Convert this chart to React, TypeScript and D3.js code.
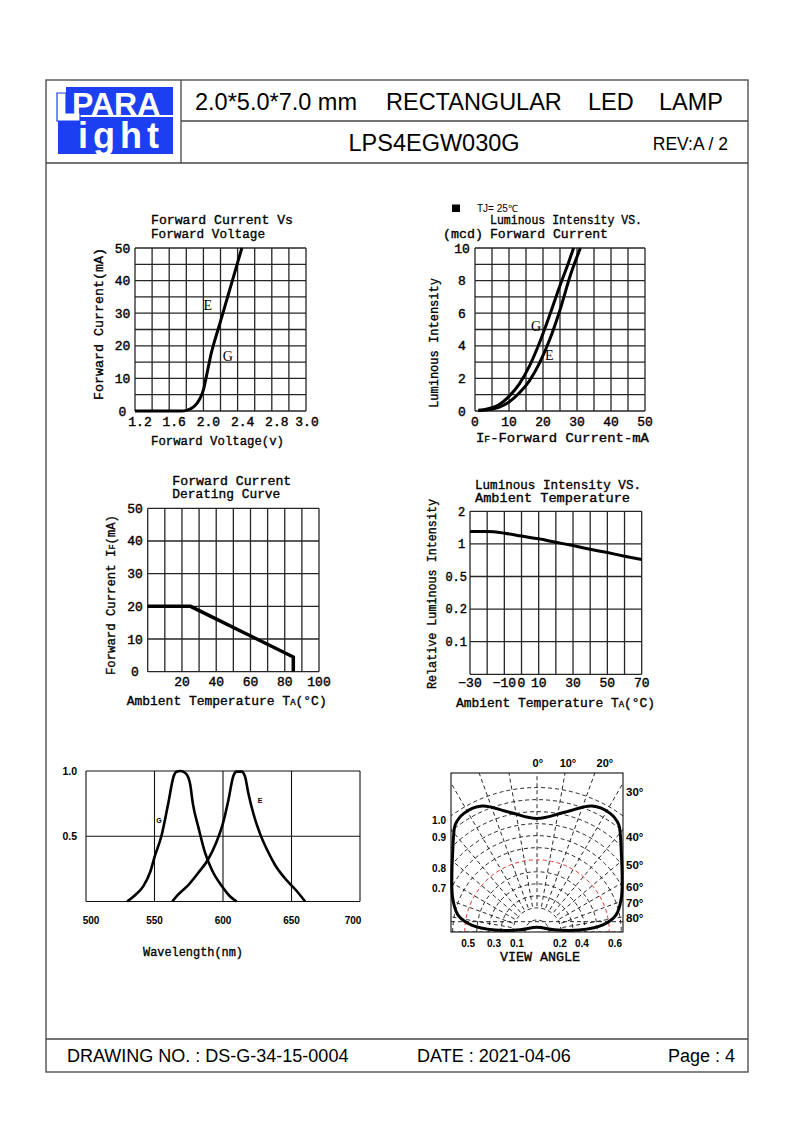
import React from "react";
import * as d3 from "d3";

// ================= DATA =================
// Chart 1: Forward Current vs Forward Voltage
const fvVoltage = [1.2, 1.5, 1.75, 1.8, 1.85, 1.9, 1.95, 1.98, 2.0, 2.03, 2.06, 2.09, 2.12, 2.16, 2.2, 2.25, 2.3, 2.35, 2.4, 2.45];
const fvCurrent = [0, 0, 0, 0.2, 0.7, 1.6, 3.4, 5.0, 6.5, 10, 13.8, 17.5, 20.5, 24, 27.5, 32, 36.5, 41, 45.5, 50];
const fvXTicks = [1.2, 1.6, 2.0, 2.4, 2.8, 3.2];
const fvXTickLabels = ["1.2", "1.6", "2.0", "2.4", "2.8", "3.0"];
const fvYTicks = [0, 10, 20, 30, 40, 50];

// Chart 2: Luminous Intensity vs Forward Current
const ivCurrentG = [1, 3, 5, 7, 10, 13, 16, 19, 22, 25, 27.5, 29];
const ivIntensityG = [0.05, 0.1, 0.2, 0.38, 0.9, 1.65, 2.75, 4.2, 5.9, 7.7, 9.1, 10];
const ivCurrentE = [1, 3, 5, 7, 10, 13, 16, 19, 22, 25, 28, 31];
const ivIntensityE = [0.03, 0.06, 0.12, 0.22, 0.55, 1.1, 1.85, 2.95, 4.4, 6.2, 8.3, 10];
const ivXTicks = [0, 10, 20, 30, 40, 50];
const ivYTicks = [0, 2, 4, 6, 8, 10];

// Chart 3: Forward Current Derating Curve
const derTemp = [0, 25, 85, 85];
const derCurrent = [20, 20, 4.5, 0];
const derXTicks = [20, 40, 60, 80, 100];
const derYTicks = [0, 10, 20, 30, 40, 50];

// Chart 4: Luminous Intensity vs Ambient Temperature
const ltTemp = [-30, -20, -10, 0, 10, 20, 30, 40, 50, 60, 70];
const ltRel = [1.38, 1.38, 1.33, 1.24, 1.155, 1.05, 0.974, 0.918, 0.867, 0.811, 0.76];
const ltXTicks = [-30, -10, 0, 10, 30, 50, 70];
const ltXTickLabels = ["\u221230", "\u221210", "0", "10", "30", "50", "70"];
const ltYLevels = [0, 0.1, 0.2, 0.5, 1, 2];
const ltYTickLabels = ["", "0.1", "0.2", "0.5", "1", "2"];

// Chart 5: Spectrum
const specGnm = [530, 536, 542, 547, 550, 555, 560, 564, 566, 569, 573, 576, 578, 582, 587, 592, 599, 605, 610];
const specGrel = [0, 0.05, 0.12, 0.23, 0.34, 0.5, 0.75, 0.96, 0.995, 1.0, 0.98, 0.9, 0.75, 0.57, 0.37, 0.24, 0.12, 0.04, 0];
const specEnm = [563, 567, 575, 582, 589, 595, 600, 604, 607.5, 610, 613.5, 616, 618.5, 622, 627, 632, 638, 645, 653, 660];
const specErel = [0, 0.05, 0.13, 0.22, 0.32, 0.45, 0.6, 0.78, 0.96, 0.995, 0.995, 0.96, 0.83, 0.68, 0.52, 0.4, 0.28, 0.18, 0.09, 0];
const specXTicks = [500, 550, 600, 650, 700];
const specYTicks = [0.5, 1.0];
const specYTickLabels = ["0.5", "1.0"];

// Chart 6: Radiation pattern (outline in plot units, half-width = 1)
const polarOutlineU = [0, 0.33, 0.64, 0.85, 0.95, 0.97, 0.98, 0.99, 0.98, 0.92, 0.76, 0.49, 0.2, 0, -0.2, -0.49, -0.76, -0.92, -0.98, -0.99, -0.98, -0.97, -0.95, -0.85, -0.64, -0.33];
const polarOutlineV = [1.32, 1.395, 1.465, 1.38, 1.25, 1.12, 0.93, 0.66, 0.39, 0.2, 0.08, 0.023, 0.025, 0.055, 0.025, 0.023, 0.08, 0.2, 0.39, 0.66, 0.93, 1.12, 1.25, 1.38, 1.465, 1.395];
const polarAngles = [-90, -80, -70, -60, -50, -40, -30, -20, -10, 0, 10, 20, 30, 40, 50, 60, 70, 80, 90];
const polarTopLabels = ["0\u00b0", "10\u00b0", "20\u00b0"];
const polarTopU = [0.01, 0.36, 0.79];
const polarRightLabels = ["30\u00b0", "40\u00b0", "50\u00b0", "60\u00b0", "70\u00b0", "80\u00b0"];
const polarRightV = [1.628, 1.105, 0.779, 0.523, 0.337, 0.163];
const polarLeftLabels = ["1.0", "0.9", "0.8", "0.7"];
const polarLeftV = [1.302, 1.105, 0.744, 0.512];
const polarBottomLabels = ["0.5", "0.3", "0.1", "0.2", "0.4", "0.6"];
const polarBottomU = [-0.8, -0.5, -0.233, 0.267, 0.523, 0.907];

// ================= STYLE =================
const MONO = "'Liberation Mono','DejaVu Sans Mono',monospace";
const SANS = "'Liberation Sans',Arial,sans-serif";
const SERIF = "'Liberation Serif','DejaVu Serif',serif";
const GRID = "#262626";
const BLUE = "#1c3ff2";

function Grid({ x, y, xs, ys, sw = 1.3, color = GRID }: any) {
  const xr = x.range();
  const yr = y.range();
  const xa = xr[0], xb = xr[xr.length - 1];
  const ya = Math.min(yr[0], yr[yr.length - 1]);
  const yb = Math.max(yr[0], yr[yr.length - 1]);
  return (
    <g stroke={color} strokeWidth={sw} fill="none">
      {xs.map((v: number, i: number) => (
        <line key={"gx" + i} x1={x(v)} x2={x(v)} y1={ya} y2={yb} />
      ))}
      {ys.map((v: number, i: number) => (
        <line key={"gy" + i} x1={xa} x2={xb} y1={y(v)} y2={y(v)} />
      ))}
    </g>
  );
}

const monoText = { fontFamily: MONO, fontSize: 13, fill: "#000", stroke: "#000", strokeWidth: 0.35 } as any;
const tickText = { fontFamily: MONO, fontSize: 13, fill: "#000", stroke: "#000", strokeWidth: 0.4 } as any;

function FVChart() {
  const x = d3.scaleLinear().domain([1.2, 3.2]).range([135, 306]);
  const y = d3.scaleLinear().domain([0, 50]).range([411, 248]);
  const line = d3
    .line<number>()
    .x((d) => x(d))
    .y((_d, i) => y(fvCurrent[i]))
    .curve(d3.curveMonotoneX);
  return (
    <g>
      <text {...monoText} x={151} y={224} textLength={142} lengthAdjust="spacingAndGlyphs">Forward Current Vs</text>
      <text {...monoText} x={151} y={238} textLength={114} lengthAdjust="spacingAndGlyphs">Forward Voltage</text>
      <Grid x={x} y={y} xs={d3.range(11).map((i) => 1.2 + i * 0.2)} ys={d3.range(0, 51, 5)} />
      <path d={line(fvVoltage) as string} stroke="#000" strokeWidth={3} fill="none" strokeLinejoin="round" />
      {fvXTicks.map((v, i) => (
        <text key={i} {...tickText} x={Math.min(x(v) + 5, 307)} y={426} textAnchor="middle">{fvXTickLabels[i]}</text>
      ))}
      {fvYTicks.map((v, i) => (
        <text key={i} {...tickText} x={122.5} y={y(v) + 4.5} textAnchor="middle">{v}</text>
      ))}
      <text {...monoText} transform="translate(102.5,324) rotate(-90)" textAnchor="middle" textLength={152} lengthAdjust="spacingAndGlyphs">Forward Current(mA)</text>
      <text {...monoText} x={151} y={444.5} textLength={133} lengthAdjust="spacingAndGlyphs">Forward Voltage(v)</text>
      <text x={207.7} y={310} textAnchor="middle" fontFamily={SERIF} fontSize={14}>E</text>
      <text x={227.7} y={360.5} textAnchor="middle" fontFamily={SERIF} fontSize={14}>G</text>
    </g>
  );
}

function IVChart() {
  const x = d3.scaleLinear().domain([0, 50]).range([475, 645]);
  const y = d3.scaleLinear().domain([0, 10]).range([411, 248]);
  const lineG = d3.line<number>().x((d) => x(d)).y((_d, i) => y(ivIntensityG[i])).curve(d3.curveMonotoneX);
  const lineE = d3.line<number>().x((d) => x(d)).y((_d, i) => y(ivIntensityE[i])).curve(d3.curveMonotoneX);
  return (
    <g>
      <rect x={452} y={204.5} width={8} height={7.5} fill="#000" />
      <text x={477} y={212} fontFamily={SANS} fontSize={10}>TJ= 25℃</text>
      <text {...monoText} x={490} y={224} textLength={152} lengthAdjust="spacingAndGlyphs">Luminous Intensity VS.</text>
      <text {...monoText} x={443} y={238} textLength={40} lengthAdjust="spacingAndGlyphs">(mcd)</text>
      <text {...monoText} x={490} y={238} textLength={118} lengthAdjust="spacingAndGlyphs">Forward Current</text>
      <Grid x={x} y={y} xs={d3.range(0, 51, 5)} ys={d3.range(0, 11, 1)} />
      <path d={lineG(ivCurrentG) as string} stroke="#000" strokeWidth={3} fill="none" />
      <path d={lineE(ivCurrentE) as string} stroke="#000" strokeWidth={3} fill="none" />
      {ivXTicks.map((v, i) => (
        <text key={i} {...tickText} x={x(v)} y={426} textAnchor="middle">{v}</text>
      ))}
      {ivYTicks.map((v, i) => (
        <text key={i} {...tickText} x={462} y={y(v) + 4.5} textAnchor="middle">{v}</text>
      ))}
      <text {...monoText} transform="translate(437.5,343) rotate(-90)" textAnchor="middle" textLength={130} lengthAdjust="spacingAndGlyphs">Luminous Intensity</text>
      <text {...monoText} x={476} y={442} textLength={173} lengthAdjust="spacingAndGlyphs">
        I<tspan fontSize={9}>F</tspan>-Forward Current-mA
      </text>
      <text x={536} y={331} textAnchor="middle" fontFamily={SERIF} fontSize={14}>G</text>
      <text x={549.3} y={360} textAnchor="middle" fontFamily={SERIF} fontSize={14}>E</text>
    </g>
  );
}

function DeratingChart() {
  const x = d3.scaleLinear().domain([0, 100]).range([147.7, 319]);
  const y = d3.scaleLinear().domain([0, 50]).range([671.7, 508.3]);
  const line = d3.line<number>().x((d) => x(d)).y((_d, i) => y(derCurrent[i]));
  return (
    <g>
      <text {...monoText} x={172.3} y={485} textLength={119} lengthAdjust="spacingAndGlyphs">Forward Current</text>
      <text {...monoText} x={172.3} y={498} textLength={108} lengthAdjust="spacingAndGlyphs">Derating Curve</text>
      <Grid x={x} y={y} xs={d3.range(0, 101, 10)} ys={d3.range(0, 51, 10)} />
      <path d={line(derTemp) as string} stroke="#000" strokeWidth={3.5} fill="none" strokeLinejoin="miter" />
      {derXTicks.map((v, i) => (
        <text key={i} {...tickText} x={x(v)} y={686} textAnchor="middle">{v}</text>
      ))}
      {derYTicks.map((v, i) => (
        <text key={i} {...tickText} x={135} y={y(v) + 4.5} textAnchor="middle">{v}</text>
      ))}
      <text {...monoText} transform="translate(114.5,595) rotate(-90)" textAnchor="middle" textLength={160} lengthAdjust="spacingAndGlyphs">
        Forward Current I<tspan fontSize={9}>F</tspan>(mA)
      </text>
      <text {...monoText} x={126.7} y={705} textLength={200} lengthAdjust="spacingAndGlyphs">
        Ambient Temperature T<tspan fontSize={9}>A</tspan>(°C)
      </text>
    </g>
  );
}

function TempChart() {
  const top = 511.3, bottom = 674.3;
  const x = d3.scaleLinear().domain([-30, 70]).range([470, 641.7]);
  const y = d3
    .scaleLinear()
    .domain(ltYLevels)
    .range(ltYLevels.map((_v, i) => bottom - (i * (bottom - top)) / (ltYLevels.length - 1)));
  const line = d3.line<number>().x((d) => x(d)).y((_d, i) => y(ltRel[i])).curve(d3.curveMonotoneX);
  return (
    <g>
      <text {...monoText} x={475} y={489} textLength={166} lengthAdjust="spacingAndGlyphs">Luminous Intensity VS.</text>
      <text {...monoText} x={475} y={502} textLength={155} lengthAdjust="spacingAndGlyphs">Ambient Temperature</text>
      <Grid x={x} y={y} xs={d3.range(-30, 71, 10)} ys={ltYLevels} />
      <path d={line(ltTemp) as string} stroke="#000" strokeWidth={3} fill="none" />
      {ltXTicks.map((v, i) => (
        <text key={i} {...tickText} x={x(v)} y={687} textAnchor="middle">{ltXTickLabels[i]}</text>
      ))}
      {ltYLevels.map((v, i) => (
        <text
          key={i}
          {...tickText}
          fontSize={12}
          x={ltYTickLabels[i].length > 1 ? 467 : 461.5}
          y={y(v) + 4.2}
          textAnchor={ltYTickLabels[i].length > 1 ? "end" : "middle"}
        >
          {ltYTickLabels[i]}
        </text>
      ))}
      <text {...monoText} transform="translate(436,594) rotate(-90)" textAnchor="middle" textLength={190} lengthAdjust="spacingAndGlyphs">Relative Luminous Intensity</text>
      <text {...monoText} x={456} y={707} textLength={199} lengthAdjust="spacingAndGlyphs">
        Ambient Temperature T<tspan fontSize={9}>A</tspan>(°C)
      </text>
    </g>
  );
}

function SpectrumChart() {
  const x = d3.scaleLinear().domain([500, 700]).range([86, 360]);
  const y = d3.scaleLinear().domain([0, 1]).range([901.5, 771]);
  const lineG = d3.line<number>().x((d) => x(d)).y((_d, i) => y(specGrel[i])).curve(d3.curveMonotoneX);
  const lineE = d3.line<number>().x((d) => x(d)).y((_d, i) => y(specErel[i])).curve(d3.curveMonotoneX);
  const [xl, xr] = x.range();
  return (
    <g>
      <Grid x={x} y={y} xs={specXTicks} ys={[0, 0.5, 1]} sw={1.1} color="#111" />
      <path d={lineG(specGnm) as string} stroke="#000" strokeWidth={2.6} fill="none" />
      <path d={lineE(specEnm) as string} stroke="#000" strokeWidth={2.6} fill="none" />
      {specXTicks.map((v, i) => (
        <text key={i} x={Math.max(xl + 5, Math.min(xr - 7, x(v)))} y={923.5} textAnchor="middle" fontFamily={SANS} fontWeight="bold" fontSize={10}>{v}</text>
      ))}
      {specYTicks.map((v, i) => (
        <text key={i} x={77} y={y(v) + 3.8} textAnchor="end" fontFamily={SANS} fontWeight="bold" fontSize={10.5}>{specYTickLabels[i]}</text>
      ))}
      <text x={159} y={823} textAnchor="middle" fontFamily={SANS} fontWeight="bold" fontSize={7}>G</text>
      <text x={260} y={802.5} textAnchor="middle" fontFamily={SANS} fontWeight="bold" fontSize={7}>E</text>
      <text {...monoText} x={143} y={956} textLength={100} lengthAdjust="spacingAndGlyphs">Wavelength(nm)</text>
    </g>
  );
}

function PolarChart() {
  const left = 451, right = 623, top = 773, bottom = 932;
  const u = d3.scaleLinear().domain([-1, 1]).range([left, right]);
  const unit = (right - left) / 2;
  const v = d3.scaleLinear().domain([0, 1]).range([bottom, bottom - unit]);
  const cx = u(0), cy = v(0);
  const rings = d3.range(1, 13).map((k) => k * 0.14);
  const outline = d3
    .line<number>()
    .x((d) => u(d))
    .y((_d, i) => v(polarOutlineV[i]))
    .curve(d3.curveCatmullRomClosed.alpha(0.5));
  const dash = "4 3";
  return (
    <g>
      <defs>
        <clipPath id="polarClip">
          <rect x={left} y={top} width={right - left} height={bottom - top} />
        </clipPath>
      </defs>
      <g clipPath="url(#polarClip)" fill="none" strokeWidth={0.9} strokeDasharray={dash}>
        {rings.map((r, i) => (
          <path
            key={"r" + i}
            d={`M${cx - r * unit},${cy} A${r * unit},${r * unit} 0 0 1 ${cx + r * unit},${cy}`}
            stroke={i === 5 ? "#e02020" : "#111"}
          />
        ))}
        {polarAngles.map((a, i) => {
          const t = (a * Math.PI) / 180;
          const r0 = 0.3 * unit, r1 = 2.6 * unit;
          return (
            <line
              key={"a" + i}
              x1={cx + r0 * Math.sin(t)}
              y1={cy - r0 * Math.cos(t)}
              x2={cx + r1 * Math.sin(t)}
              y2={cy - r1 * Math.cos(t)}
              stroke="#111"
            />
          );
        })}
        <line x1={left} x2={right} y1={v(0.12)} y2={v(0.12)} stroke="#111" />
      </g>
      <rect x={left} y={top} width={right - left} height={bottom - top} fill="none" stroke="#111" strokeWidth={1.1} />
      <path d={outline(polarOutlineU) as string} fill="none" stroke="#000" strokeWidth={3} />
      {polarTopLabels.map((t, i) => (
        <text key={"t" + i} x={u(polarTopU[i])} y={766.5} textAnchor="middle" fontFamily={SANS} fontWeight="bold" fontSize={11}>{t}</text>
      ))}
      {polarRightLabels.map((t, i) => (
        <text key={"rl" + i} x={626} y={v(polarRightV[i]) + 4} fontFamily={SANS} fontWeight="bold" fontSize={11.5}>{t}</text>
      ))}
      {polarLeftLabels.map((t, i) => (
        <text key={"ll" + i} x={446} y={v(polarLeftV[i]) + 3.6} textAnchor="end" fontFamily={SANS} fontWeight="bold" fontSize={10}>{t}</text>
      ))}
      {polarBottomLabels.map((t, i) => (
        <text key={"bl" + i} x={u(polarBottomU[i])} y={946.5} textAnchor="middle" fontFamily={SANS} fontWeight="bold" fontSize={10}>{t}</text>
      ))}
      <text {...monoText} x={540} y={961} textAnchor="middle" textLength={80} lengthAdjust="spacingAndGlyphs">VIEW ANGLE</text>
    </g>
  );
}

function Frame() {
  const st = { stroke: "#444", strokeWidth: 1.3 } as any;
  return (
    <g>
      <rect x={46} y={80} width={702} height={992} fill="none" {...st} />
      <line x1={181} y1={80} x2={181} y2={163} {...st} />
      <line x1={181} y1={121} x2={748} y2={121} {...st} />
      <line x1={46} y1={163} x2={748} y2={163} {...st} />
      <line x1={46} y1={1039} x2={748} y2={1039} {...st} />
      {/* logo */}
      <rect x={66} y={87} width={107} height={28} fill={BLUE} />
      <rect x={58} y={117} width={115} height={37} fill={BLUE} />
      <path d="M57,93 L66,93 L66,113 L80,113 L80,121 L57,121 Z" fill="#fff" stroke={BLUE} strokeWidth={1.2} />
      <text x={72} y={114.5} fill="#fff" fontFamily={SANS} fontWeight="bold" fontSize={32}>PARA</text>
      <text x={78} y={147.5} fill="#fff" fontFamily={SANS} fontWeight="bold" fontSize={36} letterSpacing={5}>ight</text>
      {/* header texts */}
      <g fontFamily={SANS} fontSize={23.5} fill="#000">
        <text x={195} y={110}>2.0*5.0*7.0 mm</text>
        <text x={386} y={110}>RECTANGULAR</text>
        <text x={588} y={110}>LED</text>
        <text x={659} y={110}>LAMP</text>
        <text x={348.5} y={150.5}>LPS4EGW030G</text>
      </g>
      <text x={728} y={149.5} textAnchor="end" fontFamily={SANS} fontSize={17.5}>REV:A / 2</text>
      {/* footer */}
      <g fontFamily={SANS} fontSize={18} fill="#000">
        <text x={67} y={1062}>DRAWING NO. : DS-G-34-15-0004</text>
        <text x={417} y={1062}>DATE : 2021-04-06</text>
        <text x={735} y={1062} textAnchor="end">Page : 4</text>
      </g>
    </g>
  );
}

export default function App() {
  return (
    <svg
      width={794}
      height={1123}
      viewBox="0 0 794 1123"
      xmlns="http://www.w3.org/2000/svg"
      style={{ position: "absolute", left: 0, top: 0, background: "#fff" }}
    >
      <rect width={794} height={1123} fill="#fff" />
      <Frame />
      <FVChart />
      <IVChart />
      <DeratingChart />
      <TempChart />
      <SpectrumChart />
      <PolarChart />
    </svg>
  );
}
